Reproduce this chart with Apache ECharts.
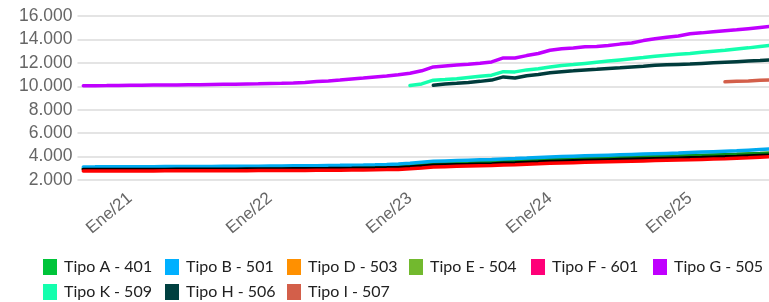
<!DOCTYPE html>
<html>
<head>
<meta charset="utf-8">
<script src="https://cdn.jsdelivr.net/npm/echarts@6/dist/echarts.min.js"></script>
<style>
  html, body { margin: 0; padding: 0; background: #fff; }
  #chart { width: 769px; height: 302px; }
</style>
</head>
<body>
<div id="chart"></div>
<script>
const months = [
  "Sep/20", "Oct/20", "Nov/20", "Dic/20",
  "Ene/21", "Feb/21", "Mar/21", "Abr/21", "May/21", "Jun/21", "Jul/21", "Ago/21", "Sep/21", "Oct/21", "Nov/21", "Dic/21",
  "Ene/22", "Feb/22", "Mar/22", "Abr/22", "May/22", "Jun/22", "Jul/22", "Ago/22", "Sep/22", "Oct/22", "Nov/22", "Dic/22",
  "Ene/23", "Feb/23", "Mar/23", "Abr/23", "May/23", "Jun/23", "Jul/23", "Ago/23", "Sep/23", "Oct/23", "Nov/23", "Dic/23",
  "Ene/24", "Feb/24", "Mar/24", "Abr/24", "May/24", "Jun/24", "Jul/24", "Ago/24", "Sep/24", "Oct/24", "Nov/24", "Dic/24",
  "Ene/25", "Feb/25", "Mar/25", "Abr/25", "May/25", "Jun/25", "Jul/25", "Ago/25"
];

const seriesNames = [
  "Tipo A - 401", "Tipo B - 501", "Tipo D - 503", "Tipo E - 504", "Tipo F - 601",
  "Tipo G - 505", "Tipo K - 509", "Tipo H - 506", "Tipo I - 507"
];
const legendColors = ["#00c43a", "#00b0ff", "#ff9000", "#72b92e", "#ff0078", "#c000ff", "#14ffae", "#004040", "#d35f4a"];
const lineColors = ["#0a8f1a", "#00aaf0", "#000000", "#72b92e", "#ff0000", "#c000ff", "#14ffae", "#003c3c", "#d35f4a"];

// month index where each series begins
const startIndex = [0, 0, 0, 0, 0, 0, 28, 30, 55];

const tipoA = [2980, 2982, 2985, 2987, 2990, 2994, 2998, 3002, 3006, 3010, 3015, 3020, 3025, 3030, 3036, 3042, 3050, 3058, 3066, 3074, 3084, 3096, 3110, 3126, 3144, 3164, 3186, 3210,
  3260, 3330, 3400, 3430, 3460, 3490, 3520, 3550, 3600, 3630, 3670, 3710, 3760, 3790, 3815, 3840, 3865, 3890, 3915, 3940, 3965, 3990, 4015, 4040, 4070, 4100, 4130, 4160, 4190, 4225, 4260, 4300];
const tipoB = [3120, 3122, 3125, 3127, 3130, 3134, 3138, 3142, 3146, 3150, 3155, 3160, 3165, 3170, 3176, 3182, 3190, 3198, 3206, 3214, 3224, 3236, 3250, 3266, 3284, 3304, 3326, 3370,
  3440, 3520, 3600, 3630, 3660, 3690, 3720, 3750, 3800, 3830, 3870, 3920, 3970, 4000, 4030, 4060, 4090, 4120, 4150, 4180, 4210, 4240, 4270, 4300, 4340, 4380, 4420, 4460, 4500, 4550, 4600, 4650];
const tipoD = [2890, 2892, 2894, 2896, 2898, 2900, 2903, 2906, 2909, 2912, 2915, 2919, 2923, 2927, 2931, 2936, 2941, 2947, 2953, 2959, 2966, 2974, 2984, 2995, 3008, 3022, 3038, 3056,
  3110, 3180, 3250, 3280, 3300, 3320, 3345, 3370, 3420, 3450, 3490, 3530, 3580, 3610, 3640, 3665, 3690, 3715, 3740, 3765, 3790, 3815, 3840, 3865, 3890, 3915, 3945, 3975, 4010, 4050, 4090, 4130];
const tipoE = [2970, 2972, 2975, 2977, 2980, 2984, 2988, 2992, 2996, 3000, 3005, 3010, 3015, 3020, 3026, 3032, 3040, 3048, 3056, 3064, 3074, 3086, 3100, 3116, 3134, 3154, 3176, 3200,
  3250, 3320, 3390, 3420, 3450, 3480, 3510, 3540, 3590, 3620, 3660, 3700, 3750, 3780, 3805, 3830, 3855, 3880, 3905, 3930, 3955, 3980, 4005, 4030, 4060, 4090, 4120, 4150, 4180, 4215, 4250, 4290];
const tipoF = [2770, 2771, 2772, 2773, 2774, 2776, 2778, 2780, 2782, 2784, 2786, 2789, 2792, 2795, 2798, 2802, 2806, 2810, 2815, 2820, 2826, 2833, 2841, 2850, 2860, 2872, 2886, 2902,
  2960, 3030, 3110, 3140, 3165, 3190, 3215, 3240, 3280, 3310, 3345, 3380, 3420, 3450, 3480, 3505, 3530, 3555, 3580, 3605, 3630, 3655, 3680, 3705, 3730, 3760, 3790, 3820, 3855, 3890, 3940, 3990];
const tipoG = [10050, 10055, 10060, 10070, 10080, 10090, 10100, 10110, 10120, 10130, 10140, 10155, 10170, 10180, 10195, 10210, 10230, 10250, 10280, 10320, 10400, 10460, 10530, 10620, 10700, 10790, 10880, 10990,
  11120, 11320, 11650, 11740, 11810, 11880, 11960, 12080, 12420, 12420, 12620, 12800, 13080, 13200, 13270, 13370, 13400, 13480, 13600, 13700, 13900, 14050, 14180, 14300, 14480, 14560, 14650, 14740, 14820, 14920, 15020, 15120];
const tipoK = [10060, 10200, 10520, 10580, 10650, 10750, 10850, 10950, 11250, 11230, 11400, 11500, 11650, 11780, 11850, 11950, 12050, 12150, 12250, 12350, 12450, 12560, 12650, 12730, 12800, 12900, 13000, 13080, 13180, 13280, 13400, 13500];
const tipoH = [10080, 10200, 10260, 10330, 10420, 10530, 10800, 10700, 10900, 11000, 11150, 11250, 11320, 11400, 11450, 11520, 11580, 11650, 11720, 11800, 11840, 11870, 11900, 11950, 12000, 12050, 12100, 12150, 12200, 12260];
const tipoI = [10380, 10420, 10460, 10510, 10550];

const yTicks = { min: 2000, max: 16000, step: 2000 };

const seriesValues = [tipoA, tipoB, tipoD, tipoE, tipoF, tipoG, tipoK, tipoH, tipoI];

function padData(values, start) {
  const out = [];
  for (let i = 0; i < start; i++) out.push(null);
  return out.concat(values);
}

function formatThousands(v) {
  return String(v).replace(/\B(?=(\d{3})+(?!\d))/g, ".");
}

const chart = echarts.init(document.getElementById("chart"), null, { renderer: "canvas" });

chart.setOption({
  animation: false,
  backgroundColor: "#fff",
  grid: {
    left: 77.5,
    right: -8.5,
    top: 16,
    bottom: 122,
    containLabel: false,
    outerBoundsMode: "none"
  },
  xAxis: {
    type: "category",
    data: months,
    boundaryGap: true,
    axisLine: { show: false },
    axisTick: { show: false },
    splitLine: { show: false },
    axisLabel: {
      interval: (index, value) => value.startsWith("Ene"),
      rotate: 40,
      margin: 16,
      color: "#666",
      fontFamily: "Liberation Sans",
      fontSize: 17
    }
  },
  yAxis: {
    type: "value",
    min: yTicks.min,
    max: yTicks.max,
    interval: yTicks.step,
    axisLine: { show: false },
    axisTick: { show: false },
    splitLine: { lineStyle: { color: "#e4e4e4", width: 2 } },
    axisLabel: {
      margin: 5,
      color: "#666",
      fontFamily: "Liberation Sans",
      fontSize: 17.5,
      formatter: formatThousands
    }
  },
  legend: {
    left: 43,
    top: 259,
    width: 730,
    padding: 0,
    icon: "rect",
    itemWidth: 14,
    itemHeight: 16,
    itemGap: 9,
    textStyle: {
      fontFamily: "Lato",
      fontSize: 16,
      color: "#222",
      width: 92,
      lineHeight: 16,
      padding: [0, 0, 0, 2]
    },
    data: seriesNames.map((name, i) => ({ name, itemStyle: { color: legendColors[i] } }))
  },
  series: seriesNames.map((name, i) => ({
    name,
    type: "line",
    data: padData(seriesValues[i], startIndex[i]),
    showSymbol: false,
    symbol: "none",
    connectNulls: false,
    z: name === "Tipo E - 504" ? 1 : 2,
    itemStyle: { color: legendColors[i] },
    lineStyle: { color: lineColors[i], width: 3.5, cap: "round" }
  }))
});
</script>
</body>
</html>
